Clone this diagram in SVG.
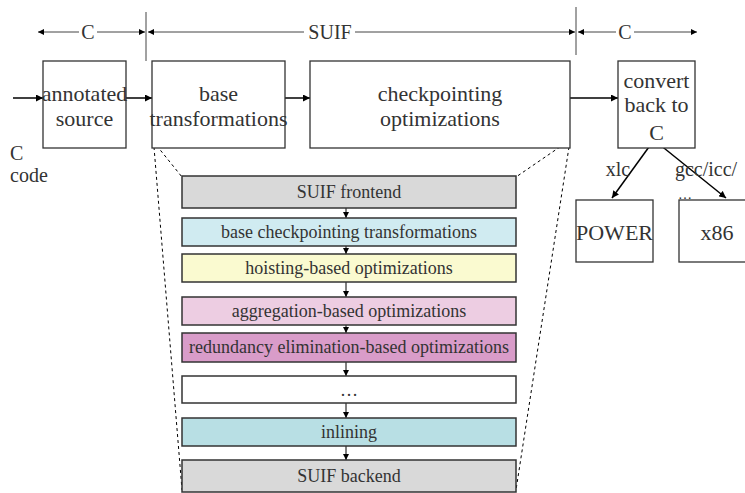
<svg xmlns="http://www.w3.org/2000/svg" width="745" height="493" viewBox="0 0 745 493">
<defs>
<marker id="ah" viewBox="0 0 10 10" refX="10" refY="5" markerWidth="7" markerHeight="7" markerUnits="userSpaceOnUse" orient="auto"><path d="M0,0 L10,5 L0,10 z" fill="#000"/></marker>
<marker id="ahs" viewBox="0 0 10 10" refX="10" refY="5" markerWidth="6" markerHeight="6" markerUnits="userSpaceOnUse" orient="auto"><path d="M0,0 L10,5 L0,10 z" fill="#000"/></marker>
</defs>
<style>
text{fill:#333;text-anchor:middle}
.big{font-size:22px}
.mid{font-size:20px}
.sm{font-size:18px}
.box{fill:#fff;stroke:#333;stroke-width:1.3}
.sb{stroke:#333;stroke-width:1.5}
.ln{stroke:#000;stroke-width:1.5;fill:none}
.tl{stroke:#444;stroke-width:1;fill:none}
.dash{stroke:#000;stroke-width:1;stroke-dasharray:3,3;fill:none}
</style>
<g font-family="Liberation Serif, DejaVu Serif, serif">
<g id="top-scale">
<line class="tl" x1="146" y1="12" x2="146" y2="61"/>
<line class="tl" x1="576" y1="7" x2="576" y2="55"/>
<line class="tl" x1="79" y1="32" x2="38" y2="32" marker-end="url(#ahs)"/>
<line class="tl" x1="97" y1="32" x2="145" y2="32" marker-end="url(#ahs)"/>
<text class="mid" x="88" y="39">C</text>
<line class="tl" x1="304" y1="32" x2="148" y2="32" marker-end="url(#ahs)"/>
<line class="tl" x1="355" y1="32" x2="575" y2="32" marker-end="url(#ahs)"/>
<text class="mid" x="330" y="39">SUIF</text>
<line class="tl" x1="616" y1="32" x2="578" y2="32" marker-end="url(#ahs)"/>
<line class="tl" x1="634" y1="32" x2="697" y2="32" marker-end="url(#ahs)"/>
<text class="mid" x="625" y="39">C</text>
</g>
<g id="connectors">
<line class="ln" x1="13" y1="98" x2="43" y2="98" marker-end="url(#ah)"/>
<line class="ln" x1="126" y1="98" x2="152" y2="98" marker-end="url(#ah)"/>
<line class="ln" x1="285" y1="98" x2="310" y2="98" marker-end="url(#ah)"/>
<line class="ln" x1="570" y1="98" x2="618" y2="98" marker-end="url(#ah)"/>
<line class="ln" x1="654" y1="140" x2="612" y2="198" marker-end="url(#ah)"/>
<line class="ln" x1="654" y1="140" x2="726" y2="198" marker-end="url(#ah)"/>
<line class="dash" x1="153" y1="141" x2="182" y2="177"/>
<line class="dash" x1="154" y1="147" x2="182" y2="490"/>
<line class="dash" x1="570" y1="140" x2="516" y2="177"/>
<line class="dash" x1="569" y1="147" x2="516" y2="490"/>
<g stroke="#000" stroke-width="1">
<line x1="346" y1="208" x2="346" y2="218" marker-end="url(#ahs)"/>
<line x1="346" y1="246" x2="346" y2="254" marker-end="url(#ahs)"/>
<line x1="346" y1="282" x2="346" y2="297" marker-end="url(#ahs)"/>
<line x1="346" y1="325" x2="346" y2="333" marker-end="url(#ahs)"/>
<line x1="346" y1="362" x2="346" y2="376" marker-end="url(#ahs)"/>
<line x1="346" y1="403" x2="346" y2="418" marker-end="url(#ahs)"/>
<line x1="346" y1="446" x2="346" y2="460" marker-end="url(#ahs)"/>
</g>
<text class="mid" x="618" y="176">xlc</text>
<text class="mid" x="706" y="176">gcc/icc/</text>
<text x="685" y="199" font-size="14">…</text>
</g>
<g id="c-code"><text class="mid" x="10" y="160" style="text-anchor:start">C</text><text class="mid" x="10" y="182" style="text-anchor:start">code</text></g>
<g id="annotated-source"><rect class="box" x="43" y="61" width="83" height="87"/><text class="big" x="84.5" y="101">annotated</text><text class="big" x="84.5" y="126">source</text></g>
<g id="base-transformations"><rect class="box" x="152" y="61" width="133" height="87"/><text class="big" x="218.5" y="101">base</text><text class="big" x="218.5" y="126">transformations</text></g>
<g id="checkpointing-optimizations"><rect class="box" x="310" y="61" width="260" height="87"/><text class="big" x="440" y="101">checkpointing</text><text class="big" x="440" y="126">optimizations</text></g>
<g id="convert-back"><rect class="box" x="618" y="61" width="77" height="87"/><text class="big" x="656.5" y="88">convert</text><text class="big" x="656.5" y="112">back to</text><text class="big" x="656.5" y="140">C</text></g>
<g id="power"><rect class="box" x="576" y="200" width="77" height="62"/><text class="big" x="614.5" y="240">POWER</text></g>
<g id="x86"><rect class="box" x="679" y="200" width="70" height="62"/><text class="big" x="717" y="240">x86</text></g>
<g id="suif-frontend"><rect class="sb" fill="#d9d9d9" x="182" y="176" width="334" height="32"/><text class="sm" x="349" y="198">SUIF frontend</text></g>
<g id="base-checkpointing"><rect class="sb" fill="#d0ebf1" x="182" y="218" width="334" height="28"/><text class="sm" x="349" y="238">base checkpointing transformations</text></g>
<g id="hoisting"><rect class="sb" fill="#fafad0" x="182" y="254" width="334" height="28"/><text class="sm" x="349" y="274">hoisting-based optimizations</text></g>
<g id="aggregation"><rect class="sb" fill="#edcde2" x="182" y="297" width="334" height="28"/><text class="sm" x="349" y="317">aggregation-based optimizations</text></g>
<g id="redundancy"><rect class="sb" fill="#d99cc9" x="182" y="333" width="334" height="29"/><text class="sm" x="349" y="353">redundancy elimination-based optimizations</text></g>
<g id="ellipsis"><rect class="sb" fill="#fff" x="182" y="376" width="334" height="27"/><text class="sm" x="349" y="396">…</text></g>
<g id="inlining"><rect class="sb" fill="#b8dfe4" x="182" y="418" width="334" height="28"/><text class="sm" x="349" y="438">inlining</text></g>
<g id="suif-backend"><rect class="sb" fill="#d9d9d9" x="182" y="460" width="334" height="32"/><text class="sm" x="349" y="482">SUIF backend</text></g>
</g>
</svg>
